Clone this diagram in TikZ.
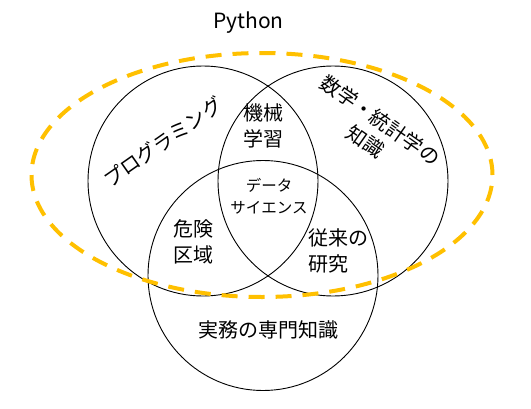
\documentclass[tikz,border=0pt]{standalone}
\usepackage{fontspec}
\setmainfont{Noto Sans CJK JP}
\usetikzlibrary{shapes.geometric}
\definecolor{gold}{HTML}{FFC000}
\begin{document}
\begin{tikzpicture}[x=1pt,y=-1pt,
  setcircle/.style={circle,draw=black,line width=0.9pt,inner sep=0pt,minimum size=230pt},
  pyline/.style={ellipse,draw=gold,line width=4pt,dash pattern=on 16pt off 11pt,inner sep=0pt,minimum width=461pt,minimum height=244pt},
  big/.style={font=\fontsize{20}{26}\selectfont,inner sep=0pt,align=center},
  small/.style={font=\fontsize{15.5}{22}\selectfont,inner sep=0pt,align=center}]
\useasboundingbox (0,0) rectangle (531,408);
\node[setcircle] (prog) at (203,181) {};
\node[setcircle] (math) at (333,181) {};
\node[setcircle] (work) at (263,275.5) {};
\node[pyline] (py) at (262,175) {};
\node[font=\fontsize{21}{24}\selectfont,inner sep=0pt,anchor=base] (pylabel) at (248.5,28) {Python};
\node[big,rotate=35] (progl) at (163,142) {プログラミング};
\node[big,rotate=-35] (mathl) at (373,131) {数学・統計学の\\知識};
\node[big] (ml) at (263,125.5) {機械\\学習};
\node[small] (ds) at (269,196) {データ\\サイエンス};
\node[big] (danger) at (193,241.5) {危険\\区域};
\node[big,align=left,anchor=west] (trad) at (308,250.5) {従来の\\研究};
\node[big] (workl) at (268,330) {実務の専門知識};
\end{tikzpicture}
\end{document}
